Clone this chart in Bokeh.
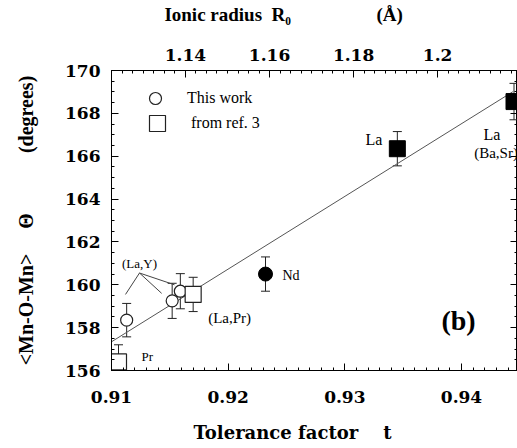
import numpy as np
from bokeh.plotting import figure
from bokeh.models import (ColumnDataSource, Range1d, LinearAxis, FixedTicker,
                          CustomJSTickFormatter, Whisker, TeeHead, Label, Legend,
                          LegendItem)
from bokeh.embed import file_html
from bokeh.resources import INLINE

# ---------------- data ----------------
this_work_t = [0.9113, 0.9152, 0.9159]
this_work_theta = [158.35, 159.25, 159.70]
this_work_err = [0.78, 0.82, 0.82]

ref3_t = [0.9106, 0.9170]
ref3_theta = [156.40, 159.55]
ref3_err = [0.80, 0.80]

nd_t = [0.9232]
nd_theta = [160.50]
nd_err = [0.80]

la_t = [0.9345, 0.9445]
la_theta = [166.35, 168.55]
la_err = [0.80, 0.85]

fit_t = [0.9100, 0.9444]
fit_theta = [157.34, 169.01]

x_tick_values = [0.91, 0.92, 0.93, 0.94]
x_tick_labels = ["0.91", "0.92", "0.93", "0.94"]
y_tick_values = [156, 158, 160, 162, 164, 166, 168, 170]
y_tick_labels = ["156", "158", "160", "162", "164", "166", "168", "170"]
r_tick_values = [1.14, 1.16, 1.18, 1.2]
r_tick_labels = ["1.14", "1.16", "1.18", "1.2"]

NB = "\u00a0"
# trailing no-break spaces shift the centred titles to the left, as in the original
x_title = "Tolerance factor" + NB * 4 + "t" + NB * 7
y_title = "<Mn-O-Mn>" + NB * 5 + "\u0398" + NB * 12 + "(degrees)"
top_title = "Ionic radius" + NB + " R\u2080" + NB * 18 + "(\u00c5)" + NB * 13

# ---------------- helpers ----------------
def lookup_formatter(vals, labs):
    return CustomJSTickFormatter(args=dict(vals=vals, labs=labs), code="""
        let best = -1, d = Infinity;
        for (let i = 0; i < vals.length; i++) {
            const e = Math.abs(vals[i] - tick);
            if (e < d) { d = e; best = i; }
        }
        return (best >= 0 && d < 1e-6) ? labs[best] : "";
    """)

def style_axis(ax):
    ax.major_tick_in = 7
    ax.major_tick_out = 0
    ax.minor_tick_in = 3
    ax.minor_tick_out = 0
    ax.axis_line_color = "black"
    ax.major_tick_line_color = "black"
    ax.minor_tick_line_color = "black"
    ax.major_label_text_font = "DejaVu Serif"
    ax.major_label_text_font_style = "bold"
    ax.major_label_text_font_size = "17px"
    ax.major_label_text_color = "black"
    ax.axis_label_text_color = "black"
    ax.axis_label_text_font_style = "bold"

x_minor = [round(v, 4) for v in np.arange(0.910, 0.9451, 0.001)]
y_minor = [float(v) for v in np.arange(156, 170.01, 0.5)]
r_minor = [round(v, 4) for v in np.arange(1.1225, 1.2190, 0.0025)]

# ---------------- figure ----------------
p = figure(width=517, height=448, x_range=Range1d(0.91, 0.9448),
           y_range=Range1d(156, 170), output_backend="svg",
           toolbar_location=None, min_border_left=111, min_border_right=0,
           min_border_top=69, min_border_bottom=78)
p.extra_x_ranges = {"R": Range1d(1.1224, 1.2190)}
p.xgrid.visible = False
p.ygrid.visible = False
p.outline_line_color = "black"
p.outline_line_width = 1
p.background_fill_color = "white"
p.border_fill_color = "white"

xa = p.xaxis[0]
style_axis(xa)
xa.ticker = FixedTicker(ticks=x_tick_values, minor_ticks=x_minor)
xa.formatter = lookup_formatter(x_tick_values, x_tick_labels)
xa.major_label_standoff = 20
xa.axis_label = x_title
xa.axis_label_text_font = "DejaVu Serif"
xa.axis_label_text_font_size = "18px"
xa.axis_label_standoff = 16

ya = p.yaxis[0]
style_axis(ya)
ya.ticker = FixedTicker(ticks=y_tick_values, minor_ticks=y_minor)
ya.formatter = lookup_formatter(y_tick_values, y_tick_labels)
ya.major_label_standoff = 11
ya.axis_label = y_title
ya.axis_label_text_font = "Liberation Serif"
ya.axis_label_text_font_size = "20px"
ya.axis_label_standoff = 25

ta = LinearAxis(x_range_name="R")
style_axis(ta)
ta.ticker = FixedTicker(ticks=r_tick_values, minor_ticks=r_minor)
ta.formatter = lookup_formatter(r_tick_values, r_tick_labels)
ta.major_label_standoff = 10
ta.axis_label = top_title
ta.axis_label_text_font = "Liberation Serif"
ta.axis_label_text_font_size = "19px"
ta.axis_label_standoff = 21
p.add_layout(ta, "above")

ra = LinearAxis()
style_axis(ra)
ra.ticker = FixedTicker(ticks=y_tick_values, minor_ticks=y_minor)
ra.formatter = CustomJSTickFormatter(code="return '';")
ra.major_label_standoff = 0
p.add_layout(ra, "right")

# ---------------- marks ----------------
p.line(fit_t, fit_theta, line_color="#555555", line_width=1)

def add_err(t, th, err):
    src = ColumnDataSource(dict(t=t, lo=[a - b for a, b in zip(th, err)],
                                hi=[a + b for a, b in zip(th, err)]))
    w = Whisker(source=src, base="t", lower="lo", upper="hi", dimension="height",
                line_color="#222222", line_width=1, level="underlay",
                upper_head=TeeHead(size=9, line_color="#222222", line_width=1),
                lower_head=TeeHead(size=9, line_color="#222222", line_width=1))
    p.add_layout(w)

add_err(this_work_t, this_work_theta, this_work_err)
add_err(ref3_t, ref3_theta, ref3_err)
add_err(nd_t, nd_theta, nd_err)
add_err(la_t, la_theta, la_err)

r_tw = p.scatter(this_work_t, this_work_theta, marker="circle", size=12,
                 fill_color="white", line_color="#222222", line_width=1.2)
r_ref = p.scatter(ref3_t, ref3_theta, marker="square", size=16,
                  fill_color="white", line_color="#222222", line_width=1.2)
p.scatter(nd_t, nd_theta, marker="circle", size=14, fill_color="black",
          line_color="black")
p.scatter(la_t, la_theta, marker="square", size=16, fill_color="black",
          line_color="black")

# leader lines for (La,Y)
lead_anchor = (0.9124, 160.55)
lead_end_t = [0.9112, 0.9143, 0.9154]
lead_end_theta = [159.55, 159.60, 160.00]
p.segment(x0=[lead_anchor[0]] * 3, y0=[lead_anchor[1]] * 3, x1=lead_end_t,
          y1=lead_end_theta, line_color="#444444", line_width=1)

def add_label(text, x, y, dx, dy, align, size, style="normal", units="data"):
    p.add_layout(Label(x=x, y=y, x_offset=dx, y_offset=dy, text=text,
                       x_units=units, y_units=units,
                       text_align=align, text_baseline="middle",
                       text_font="Liberation Serif", text_font_size=f"{size}px",
                       text_font_style=style, text_color="black"))

add_label("(La,Y)", lead_anchor[0], lead_anchor[1], 0, 10, "center", 13)
add_label("Nd", nd_t[0], nd_theta[0], 17, -1, "left", 14)
add_label("(La,Pr)", ref3_t[1], ref3_theta[1], 15, -24, "left", 15)
add_label("Pr", ref3_t[0], ref3_theta[0], 23, 5, "left", 13)
add_label("La", la_t[0], la_theta[0], -15, 9, "right", 16)
add_label("La", la_t[1], la_theta[1], -22, -33, "center", 16)
add_label("(Ba,Sr)", la_t[1], la_theta[1], -18, -51, "center", 15)
add_label("(b)", 347, 50, 0, 0, "center", 28, "bold", units="screen")

# ---------------- legends ----------------
leg1 = Legend(items=[LegendItem(label="This work", renderers=[r_tw])],
              location=(29, 257), glyph_width=30, glyph_height=30,
              label_standoff=17, padding=0, margin=0, spacing=0,
              border_line_alpha=0, background_fill_alpha=0,
              label_text_font="Liberation Serif", label_text_font_size="16px",
              label_text_color="black")
leg2 = Legend(items=[LegendItem(label="from ref. 3", renderers=[r_ref])],
              location=(26, 227), glyph_width=40, glyph_height=40,
              label_standoff=14, padding=0, margin=0, spacing=0,
              border_line_alpha=0, background_fill_alpha=0,
              label_text_font="Liberation Serif", label_text_font_size="16px",
              label_text_color="black")
p.add_layout(leg1)
p.add_layout(leg2)

open("out.html", "w").write(file_html(p, INLINE))
